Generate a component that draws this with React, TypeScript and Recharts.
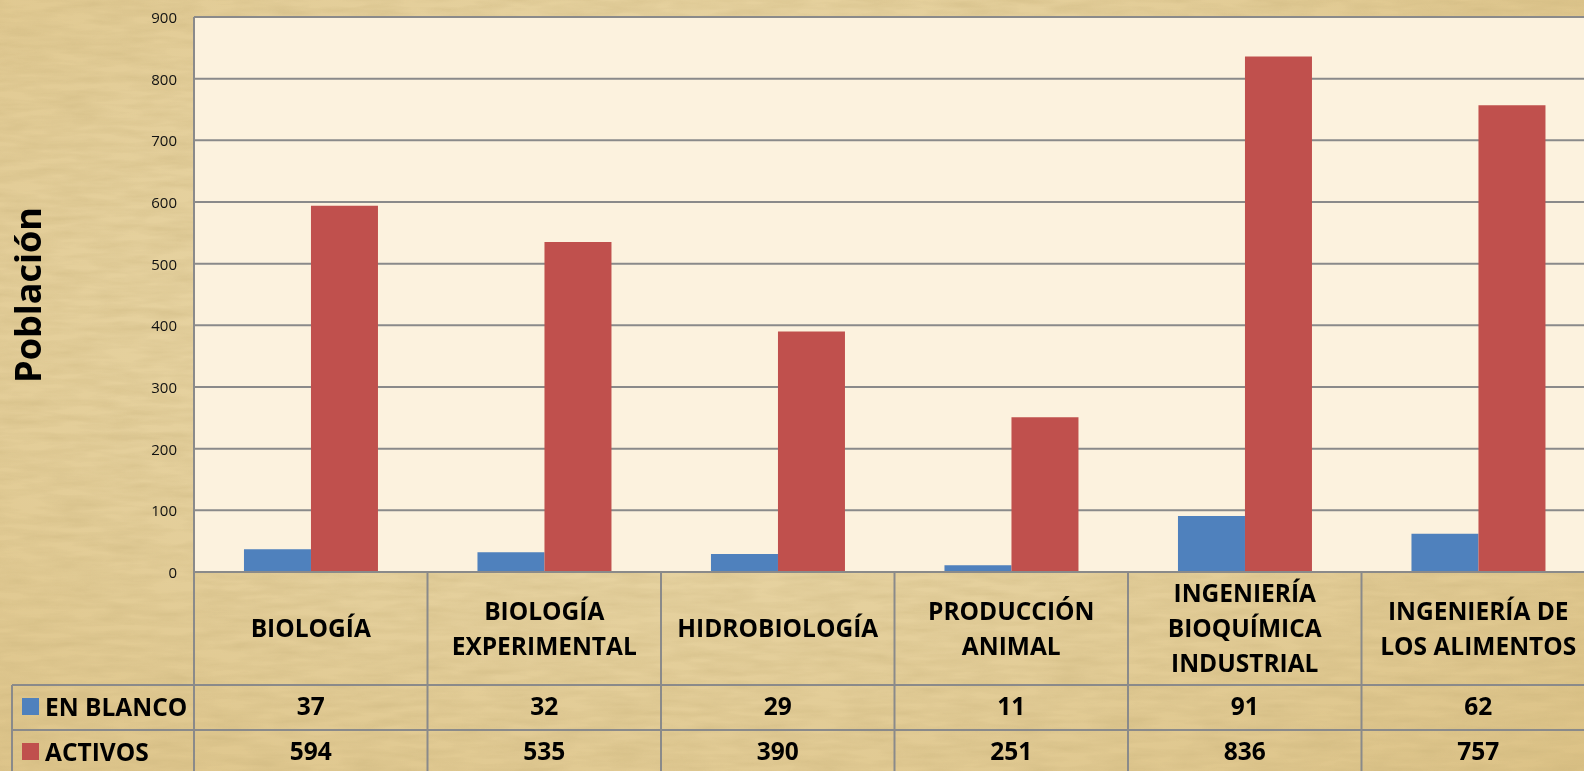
import React from 'react'
import {
    BarChart,
    Bar,
    XAxis,
    YAxis,
    CartesianGrid,
} from 'recharts'

const categories = [
    'BIOLOGÍA',
    'BIOLOGÍA\nEXPERIMENTAL',
    'HIDROBIOLOGÍA',
    'PRODUCCIÓN\nANIMAL',
    'INGENIERÍA\nBIOQUÍMICA\nINDUSTRIAL',
    'INGENIERÍA DE\nLOS ALIMENTOS',
]
const enBlanco = [37, 32, 29, 11, 91, 62]
const activos = [594, 535, 390, 251, 836, 757]
const yTicks = [0, 100, 200, 300, 400, 500, 600, 700, 800, 900]

const W = 1600
const H = 771
const LEFT = 194
const TOP = 17
const BOTTOM = 199
const RIGHT = 5
const AXIS_Y = H - BOTTOM
const STEP = (W - LEFT - RIGHT) / categories.length
const GRID = '#8a8a8a'
const FONT = "'Open Sans', sans-serif"
const BIG = 24.5

const data = categories.map((name, i) => ({
    name,
    enBlanco: enBlanco[i],
    activos: activos[i],
}))

function YTick({ y, payload }: any) {
    return (
        <text x={177} y={y} textAnchor="end" dominantBaseline="central"
            fontFamily={FONT} fontSize={15} fill="#111">
            {payload.value}
        </text>
    )
}

function XTick({ x, payload, index }: any) {
    const lines = String(payload.value).split('\n')
    const mid = 628
    return (
        <g>
            {lines.map((l, i) => (
                <text key={i} x={x} y={mid + (i - (lines.length - 1) / 2) * 35 + 9}
                    textAnchor="middle" fontFamily={FONT} fontWeight={700}
                    fontSize={BIG} fill="#000">
                    {l}
                </text>
            ))}
            <text x={x} y={715} textAnchor="middle" fontFamily={FONT}
                fontWeight={700} fontSize={BIG} fill="#000">
                {enBlanco[index]}
            </text>
            <text x={x} y={760} textAnchor="middle" fontFamily={FONT}
                fontWeight={700} fontSize={BIG} fill="#000">
                {activos[index]}
            </text>
            <line x1={x + STEP / 2} x2={x + STEP / 2} y1={AXIS_Y} y2={H}
                stroke={GRID} strokeWidth={2} />
        </g>
    )
}

export default function App() {
    return (
        <div style={{
            position: 'fixed', left: 0, top: 0, width: 1584, height: 771,
            overflow: 'hidden',
            background: 'radial-gradient(ellipse at 45% 40%, #ecdcb0 0%, #e3cd98 60%, #dcc286 100%)',
        }}>
            <svg width={1584} height={771} style={{ position: 'absolute', left: 0, top: 0 }}>
                <filter id="paper">
                    <feTurbulence type="fractalNoise" baseFrequency="0.02 0.12" numOctaves={3} seed={4} />
                    <feColorMatrix type="matrix"
                        values="0 0 0 0 0.55  0 0 0 0 0.42  0 0 0 0 0.18  0 0 0 1 -0.3" />
                </filter>
                <rect width={1584} height={771} filter="url(#paper)" opacity={0.55} />
            </svg>
            <div style={{ position: 'absolute', left: 0, top: 0 }}>
                <BarChart width={W} height={H} data={data}
                    margin={{ top: TOP, right: RIGHT, left: 0, bottom: 0 }}
                    barCategoryGap="21.4%" barGap={0}>
                    <CartesianGrid vertical={false} stroke={GRID} strokeWidth={2}
                        fill="#fcf2de" fillOpacity={1} />
                    <XAxis dataKey="name" height={BOTTOM} interval={0}
                        axisLine={{ stroke: GRID, strokeWidth: 2 }} tickLine={false}
                        tick={<XTick />} />
                    <YAxis width={LEFT} domain={[0, 900]} ticks={yTicks}
                        axisLine={{ stroke: GRID, strokeWidth: 2 }} tickLine={false}
                        tick={<YTick />} />
                    <Bar dataKey="enBlanco" name="EN BLANCO" fill="#4f81bd" isAnimationActive={false} />
                    <Bar dataKey="activos" name="ACTIVOS" fill="#c0504d" isAnimationActive={false} />
                </BarChart>
            </div>
            <svg width={1584} height={771} style={{ position: 'absolute', left: 0, top: 0, pointerEvents: 'none' }}>
                <line x1={LEFT} x2={LEFT} y1={AXIS_Y} y2={H} stroke={GRID} strokeWidth={2} />
                <line x1={12} x2={1584} y1={685} y2={685} stroke={GRID} strokeWidth={2} />
                <line x1={12} x2={1584} y1={730} y2={730} stroke={GRID} strokeWidth={2} />
                <line x1={12} x2={12} y1={685} y2={H} stroke={GRID} strokeWidth={2} />
                <rect x={22} y={698} width={17} height={17} fill="#4f81bd" />
                <rect x={22} y={743} width={17} height={17} fill="#c0504d" />
                <text x={45} y={716} fontFamily={FONT} fontWeight={700} fontSize={BIG} fill="#000">EN BLANCO</text>
                <text x={45} y={761} fontFamily={FONT} fontWeight={700} fontSize={BIG} fill="#000">ACTIVOS</text>
                <text transform="translate(41 295) rotate(-90)" textAnchor="middle"
                    fontFamily={FONT} fontWeight={700} fontSize={36} fill="#000">Población</text>
            </svg>
        </div>
    )
}
